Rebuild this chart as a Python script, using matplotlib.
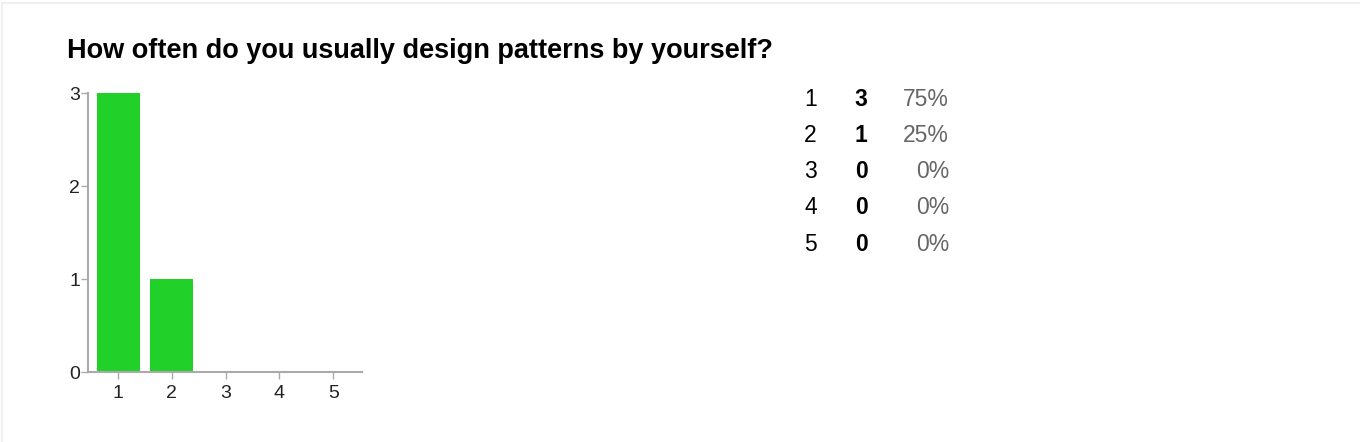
import matplotlib
matplotlib.use("Agg")
import matplotlib.pyplot as plt
from matplotlib.lines import Line2D

title = "How often do you usually design patterns by yourself?"
categories = ["1", "2", "3", "4", "5"]
counts = [3, 1, 0, 0, 0]
percents = ["75%", "25%", "0%", "0%", "0%"]
yticks = [0, 1, 2, 3]

plt.rcParams['font.family'] = ['Liberation Sans', 'DejaVu Sans']

W, H = 1360, 442
fig = plt.figure(figsize=(W / 100, H / 100), dpi=100)
fig.patch.set_facecolor('white')

# very light frame on top and left edges
fig.lines.append(Line2D([2 / W, 2 / W], [0, 1 - 3 / H], transform=fig.transFigure,
                        color='#eeeeee', linewidth=1.2))
fig.lines.append(Line2D([2 / W, 1], [1 - 3 / H, 1 - 3 / H], transform=fig.transFigure,
                        color='#eeeeee', linewidth=1.2))

fig.text(67 / W, 1 - 51 / H, title, fontsize=19.5, fontweight='bold',
         ha='left', va='center', color='black')

ax = fig.add_axes([88.3 / W, 69.7 / H, (361.7 - 88.3) / W, (372.3 - 93.3) / H])
x = list(range(1, len(categories) + 1))
ax.bar(x, counts, width=0.8, color='#21d028', zorder=2)
ax.set_xlim(0.447, 5.53)
ax.set_ylim(0, 3)
ax.set_xticks(x)
ax.set_xticklabels(categories)
ax.set_yticks(yticks)
ax.set_yticklabels([str(v) for v in yticks])
for s in ['top', 'right']:
    ax.spines[s].set_visible(False)
for s in ['left', 'bottom']:
    ax.spines[s].set_color('#aaaaaa')
    ax.spines[s].set_linewidth(1.5)
ax.tick_params(axis='both', colors='#aaaaaa', length=5, width=1, labelsize=14,
               labelcolor='#222222')
ax.tick_params(axis='y', pad=1)
ax.tick_params(axis='x', pad=4)
ax.patch.set_alpha(0)

# summary table
row_y0 = 100
row_dy = 36
for i, (c, n, p) in enumerate(zip(categories, counts, percents)):
    yy = 1 - (row_y0 + i * row_dy) / H
    fig.text(810.5 / W, yy, c, fontsize=16.5, ha='center', va='center', color='black')
    fig.text(861 / W, yy, str(n), fontsize=16.5, fontweight='bold', ha='center',
             va='center', color='black')
    fig.text(949 / W, yy, p, fontsize=16.5, ha='right', va='center', color='#666666')

fig.savefig('out.png', dpi=100, facecolor='white')
